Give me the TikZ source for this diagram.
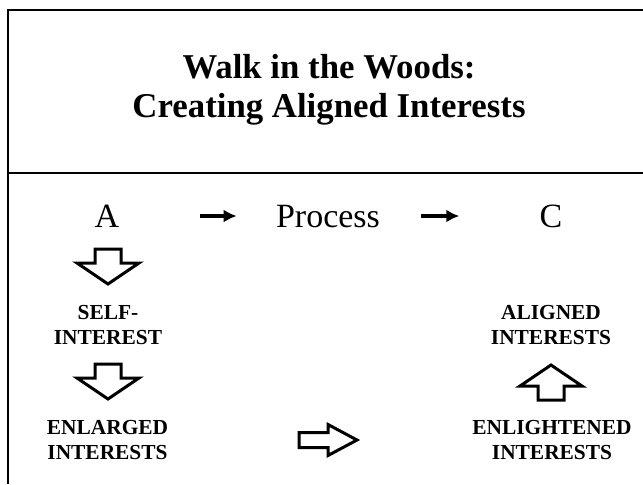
\documentclass[tikz,border=0pt]{standalone}
\usepackage{fontspec}
\setmainfont{Liberation Serif}
\usetikzlibrary{positioning, arrows.meta}

\tikzset{
    hollow/.style={draw, fill=white, line width=1.5pt, line join=miter},
    vblock/.pic={\draw[hollow] (-13,0) -- (13,0) -- (13,14) -- (31,14) -- (0,35) -- (-31,14) -- (-13,14) -- cycle;},
    hblock/.pic={\draw[hollow] (0,-7.5) -- (29,-7.5) -- (29,-15.5) -- (58,0) -- (29,15.5) -- (29,7.5) -- (0,7.5) -- cycle;}
}

\begin{document}
\begin{tikzpicture}[x=0.5pt, y=-0.5pt,
    heading/.style={font=\fontsize{17.4}{19.5}\selectfont\bfseries, align=center, inner sep=0pt},
    flow/.style={font=\fontsize{17}{19}\selectfont, inner sep=0pt, text height=11.3pt, text depth=0pt},
    stage/.style={font=\fontsize{10.7}{12.5}\selectfont\bfseries, align=center, inner sep=0pt},
    arrow/.style={-{Latex[length=6.5pt,width=6.5pt]}, line width=1.6pt}
]
\useasboundingbox (0,0) rectangle (643,484);

% frame
\draw[line width=1.2pt] (643,10) -- (8,10) -- (8,484);
\draw[line width=1.2pt] (8,173) -- (643,173);

\node[heading] (title) at (329,90) {Walk in the Woods:\\Creating Aligned Interests};

% top row
\node[flow] (A) at (107,216) {A};
\node[flow] (P) at (328,216) {Process};
\node[flow] (C) at (551,216) {C};

\draw[arrow, shorten <=40pt, shorten >=19.5pt] (A) -- (P);
\draw[arrow, shorten <=20.5pt, shorten >=40pt] (P) -- (C);

% stages
\node[stage] (self) at (108,325) {SELF-\\INTEREST};
\node[stage] (enlarged) at (107.5,440) {ENLARGED\\INTERESTS};
\node[stage] (aligned) at (551,325) {ALIGNED\\INTERESTS};
\node[stage] (enlightened) at (552,440) {ENLIGHTENED\\INTERESTS};

\pic at (108,249) {vblock};
\pic at (108,364) {vblock};
\pic[rotate=180] at (551,400) {vblock};
\pic at (299,440) {hblock};

\end{tikzpicture}
\end{document}
